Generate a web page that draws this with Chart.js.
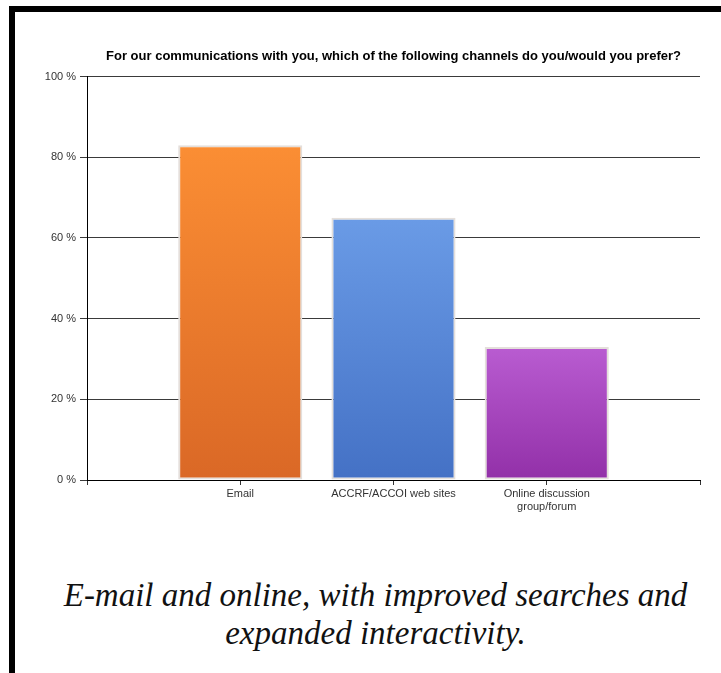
<!DOCTYPE html>
<html>
<head>
<meta charset="utf-8">
<script src="https://cdn.jsdelivr.net/npm/chart.js@4"></script>
<style>
  html, body { margin: 0; padding: 0; background: #fff; }
  body { width: 721px; height: 673px; position: relative; overflow: hidden; }
  .frame { position: absolute; left: 9px; top: 6px; right: 0; bottom: 0;
           border-top: 6px solid #000; border-left: 6px solid #000; }
  .chart-box { position: absolute; left: 16px; top: 13px; width: 705px; height: 520px; }
  .caption { position: absolute; left: 30px; right: 0; top: 576px; text-align: center;
             font-family: "Liberation Serif", serif; font-style: italic; font-size: 33px;
             line-height: 38px; color: #111; }
</style>
</head>
<body>
<div class="frame"></div>
<div class="chart-box"><canvas id="prefChart"></canvas></div>
<div class="caption">E-mail and online, with improved searches and<br>expanded interactivity.</div>
<script>
const chartTitle = 'For our communications with you, which of the following channels do you/would you prefer?'
// empty slots on both ends so the bars sit on the tick marks like the original
const categories = ['', 'Email', 'ACCRF/ACCOI web sites', ['Online discussion', 'group/forum'], '']
const preferPercent = [null, 83, 65, 33, null]
const yTickValues = [0, 20, 40, 60, 80, 100]
const barTopColors = [null, '#fb8e34', '#6a9be6', '#b95cd1', null]
const barBottomColors = [null, '#da6826', '#4471c5', '#9230a8', null]

const barGradient = (ctx) => {
    const {chart, dataIndex} = ctx
    const yScale = chart.scales.y
    const value = ctx.parsed ? ctx.parsed.y : null
    if (!yScale || value == null) return barTopColors[dataIndex] || '#999'
    const top = yScale.getPixelForValue(value)
    const bottom = yScale.getPixelForValue(0)
    const grad = chart.ctx.createLinearGradient(0, top, 0, bottom)
    grad.addColorStop(0, barTopColors[dataIndex])
    grad.addColorStop(1, barBottomColors[dataIndex])
    return grad
}

const labelFont = {family: '"Liberation Sans", Arial, sans-serif', size: 11}

const prefChart = document.getElementById('prefChart')
new Chart(prefChart, {
    type: 'bar',
    data: {
        labels: categories,
        datasets: [{
            data: preferPercent,
            backgroundColor: barGradient,
            borderColor: '#e4dfdb',
            borderWidth: 2,
            borderSkipped: false,
            barPercentage: 0.81,
            categoryPercentage: 1
        }]
    },
    options: {
        responsive: true,
        maintainAspectRatio: false,
        animation: false,
        layout: {padding: {left: 0, right: 21, top: 0, bottom: 13}},
        plugins: {
            legend: {display: false},
            tooltip: {enabled: false},
            title: {
                display: true,
                text: chartTitle,
                fullSize: false,
                color: '#000',
                font: {family: '"Liberation Sans", Arial, sans-serif', size: 13, weight: 'bold'},
                padding: {top: 36, bottom: 12}
            }
        },
        scales: {
            x: {
                offset: false,
                border: {color: '#000', width: 1},
                grid: {offset: false, drawOnChartArea: false, drawTicks: true, tickLength: 5, color: '#333'},
                ticks: {
                    color: '#333',
                    padding: 2,
                    maxRotation: 0,
                    autoSkip: false,
                    font: labelFont
                },
                afterFit: (scale) => { scale.height = 40 }
            },
            y: {
                min: 0,
                max: 100,
                afterBuildTicks: (scale) => { scale.ticks = yTickValues.map(v => ({value: v})) },
                border: {color: '#000', width: 1},
                grid: {color: '#3a3a3a', tickLength: 7},
                ticks: {
                    color: '#333',
                    padding: 4,
                    font: labelFont,
                    callback: (v) => v + ' %'
                },
                afterFit: (scale) => { scale.width = 71 }
            }
        }
    }
})
</script>
</body>
</html>
